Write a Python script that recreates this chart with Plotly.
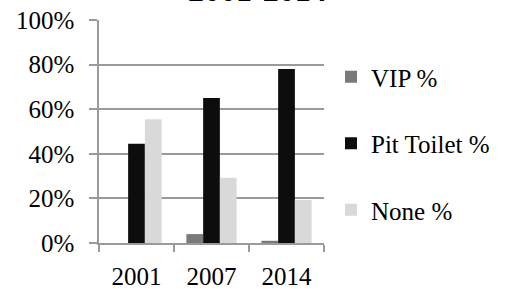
import plotly.graph_objects as go

years = ["2001", "2007", "2014"]
vip = [0, 4, 1]
pit = [44.5, 65, 78]
none = [55.5, 29.3, 19.3]
series_names = ["VIP %", "Pit Toilet %", "None %"]
colors = ["#7a7a7a", "#0d0d0d", "#d9d9d9"]
y_ticks = [0, 20, 40, 60, 80, 100]
y_labels = ["0%", "20%", "40%", "60%", "80%", "100%"]

FONT = "Liberation Serif"
fig = go.Figure()
for i, (name, vals) in enumerate(zip(series_names, [vip, pit, none])):
    fig.add_trace(go.Bar(x=years, y=vals, name=name, marker_color=colors[i],
                         marker_line_width=0, legendgroup=f"g{i}"))

W, H = 506, 289
L, R, T, B = 99, 182, 20, 46
fig.update_layout(
    width=W, height=H,
    margin=dict(l=L, r=R, t=T, b=B, autoexpand=False),
    paper_bgcolor="white", plot_bgcolor="white",
    barmode="group", bargap=0.33, bargroupgap=0,
    font=dict(family=FONT, size=25, color="#000"),
    showlegend=True,
    legend=dict(xref="container", yref="container", x=331 / W, y=1 - 54 / H,
                xanchor="left", yanchor="top", tracegroupgap=31, maxheight=400,
                font=dict(family=FONT, size=25), bgcolor="rgba(0,0,0,0)",
                itemwidth=30),
    xaxis=dict(type="category", showline=True, linecolor="#9a9a9a", linewidth=1.5,
               ticks="outside", tickson="boundaries", ticklen=7, tickcolor="#9a9a9a",
               tickwidth=1.5, showgrid=False, tickfont=dict(size=25), ticklabelstandoff=10),
    yaxis=dict(range=[0, 100], tickvals=y_ticks, ticktext=y_labels, showline=True,
               linecolor="#9a9a9a", linewidth=1.5, ticks="outside", ticklen=8,
               tickcolor="#9a9a9a", tickwidth=1.5, showgrid=True, gridcolor="#9a9a9a",
               gridwidth=1.5, zeroline=False, tickfont=dict(size=25), ticklabelstandoff=10),
)
fig.add_annotation(text="<b>2001-2014</b>", xref="paper", yref="paper",
                   x=(W / 2 + 4 - L) / (W - L - R), y=(H - B - 10) / (H - T - B),
                   xanchor="center", yanchor="bottom", showarrow=False,
                   font=dict(family=FONT, size=32, color="#000"))
fig.write_html("out.html", config={"displayModeBar": False},
               post_script="document.body.style.margin='0';")
